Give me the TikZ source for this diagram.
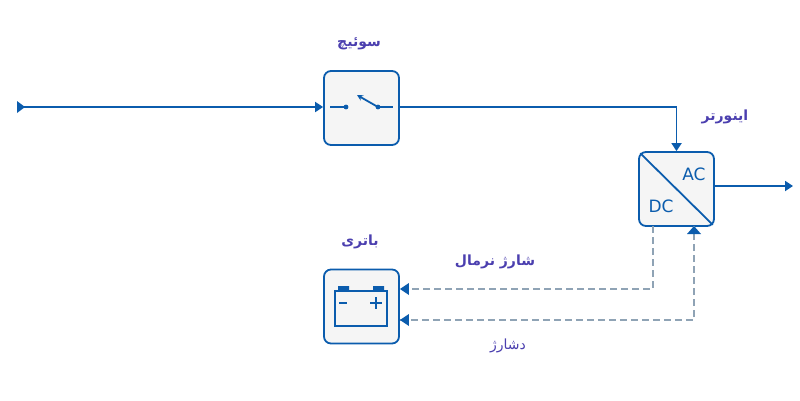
\documentclass[tikz,border=0pt]{standalone}
\usepackage{fontspec}
\setmainfont{DejaVu Sans}
\newfontfamily\arabicfont[Script=Arabic]{DejaVu Sans}
\TeXXeTstate=1
\usetikzlibrary{arrows.meta}
\definecolor{ln}{HTML}{0B5CAD}
\definecolor{tx}{HTML}{4B3FAF}
\definecolor{bx}{HTML}{F5F5F5}
\definecolor{dsh}{HTML}{8FA3B5}
\begin{document}
\begin{tikzpicture}[x=1pt,y=-1pt,
  blk/.style={draw=ln,line width=1.8pt,fill=bx,rounded corners=7pt,minimum width=75pt,minimum height=74pt,inner sep=0pt},
  wire/.style={ln,line width=1.8pt},
  arr/.style={-{Triangle[length=8pt,width=10pt]}},
  dsline/.style={dsh,line width=1.6pt,dash pattern=on 7pt off 4pt},
  lbl/.style={tx,font=\arabicfont\fontsize{14}{16}\selectfont},
  blbl/.style={tx,font=\arabicfont\bfseries\fontsize{14}{16}\selectfont}]
\useasboundingbox (0,0) rectangle (800,400);
\node[blk] (sw) at (361.5,108) {};
\node[blk] (inv) at (676.5,189) {};
\node[blk] (bat) at (361.5,306.5) {};
\coordinate (in) at (18,107);
\coordinate (out) at (793,186);
% input
\draw[wire,arr] (in) -- (sw.west |- in);
\fill[ln] (in) ++(-1,-6) -- ++(8,6) -- ++(-8,6) -- cycle;
\draw[wire,arr] (sw.east |- in) -| (inv.north);
\draw[wire,arr] (inv.east |- out) -- (out);
% switch symbol
\draw[wire] (330,107) -- (345,107);
\fill[ln] (346,107) circle (2.4pt) (378,107) circle (2.4pt);
\draw[wire] (380,107) -- (393,107);
\draw[wire,-{Stealth[length=6pt,width=6pt]}] (378,107) -- (357,95);
% inverter
\begin{scope}
\clip[rounded corners=7pt] (inv.north west) rectangle (inv.south east);
\draw[wire] (inv.north west) -- (inv.south east);
\end{scope}
\node[ln,font=\fontsize{17}{19}\selectfont] (ac) at (694,174) {AC};
\node[ln,font=\fontsize{17}{19}\selectfont] (dc) at (661,206) {DC};
% battery
\draw[ln,line width=1.6pt] (335,291) rectangle (387,326);
\fill[ln] (338,286) rectangle (349,291) (373,286) rectangle (384,291);
\draw[ln,line width=1.3pt] (339,303) -- (347,303) (370,303) -- (382,303) (376,297) -- (376,309);
% dashed
\coordinate (d1) at (653,226);
\coordinate (d2) at (694,226);
\draw[dsline] (d1) |- (bat.east |- 0,289);
\fill[ln] (bat.east |- 0,289) -- ++(9,-6) -- ++(0,12) -- cycle;
\draw[dsline] (bat.east |- 0,320) -| (d2);
\fill[ln] (bat.east |- 0,320) -- ++(9,-6) -- ++(0,12) -- cycle;
\fill[ln] (d2) -- ++(-7,8) -- ++(14,0) -- cycle;
% labels
\node[blbl] (l1) at (359,44) {\beginR سوئیچ\endR};
\node[blbl] (l2) at (725,117) {\beginR اینورتر\endR};
\node[blbl] (l3) at (360,242) {\beginR باتری\endR};
\node[blbl] (l4) at (495,262) {\beginR شارژ نرمال\endR};
\node[lbl] (l5) at (508,346) {\beginR دشارژ\endR};
\end{tikzpicture}
\end{document}
